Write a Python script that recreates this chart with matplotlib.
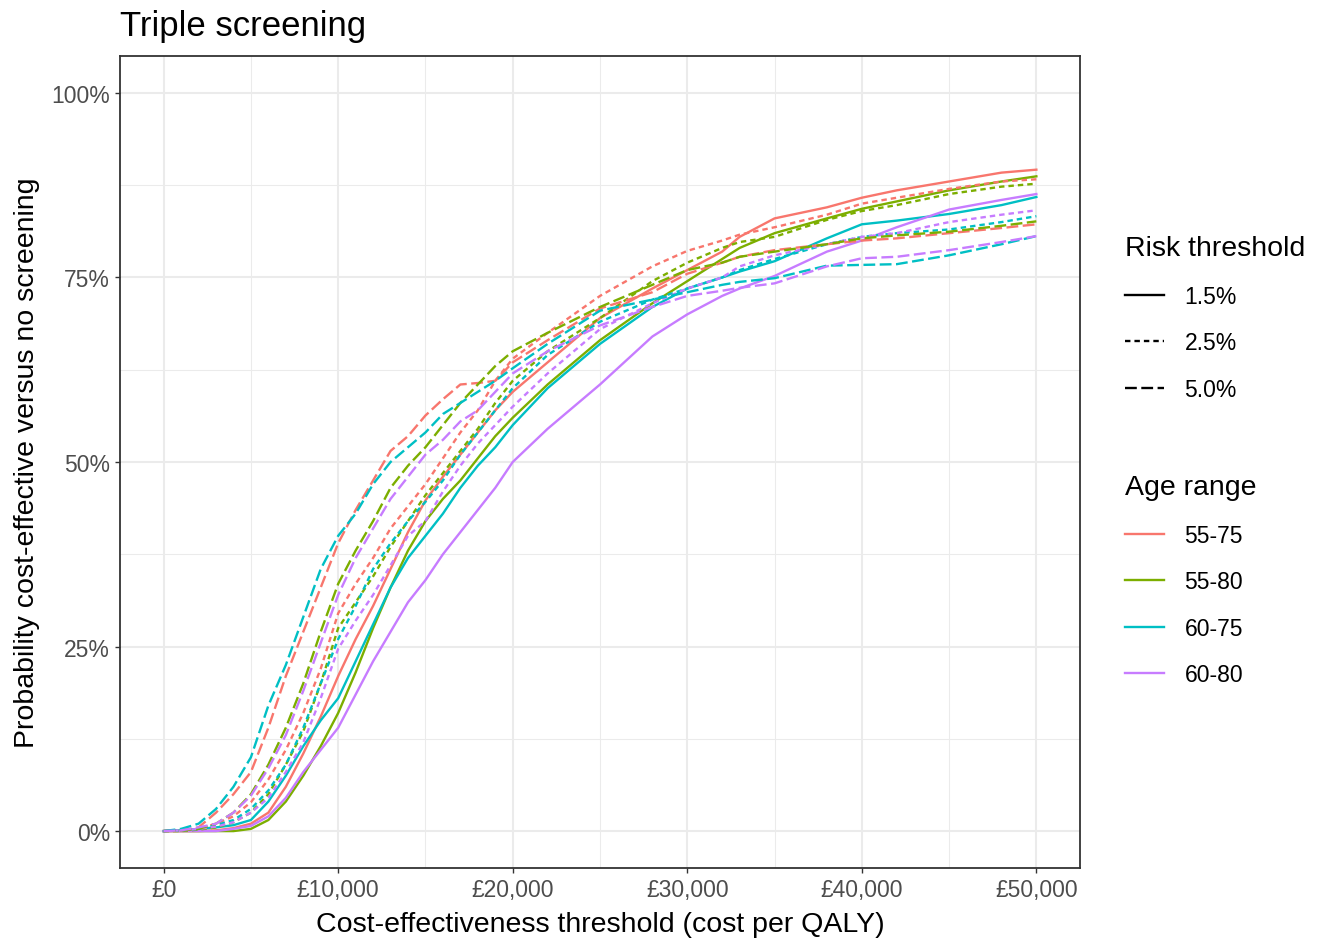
import matplotlib
matplotlib.use("Agg")
import matplotlib.pyplot as plt
from matplotlib.lines import Line2D
from matplotlib.ticker import FuncFormatter, MultipleLocator

plt.rcParams['font.family'] = ['Liberation Sans', 'DejaVu Sans']

# cost-effectiveness thresholds (thousand GBP)
thresholds = [0, 1, 2, 3, 4, 5, 6, 7, 8, 9, 10, 11, 12, 13, 14, 15, 16, 17, 18, 19, 20,
              22, 25, 28, 30, 32, 33, 35, 38, 40, 42, 45, 48, 50]

age_ranges = ["55-75", "55-80", "60-75", "60-80"]
risk_levels = ["1.5%", "2.5%", "5.0%"]

# probability cost-effective (%), risk threshold 1.5%
p_5575_r15 = [0, 0, 0, 0.1, 0.4, 1, 2.5, 6, 10.5, 15.5, 21, 26, 30.5, 35.5, 40.5, 44.8, 48, 51, 54, 57, 59.5,
              63.5, 69.5, 73.5, 76, 78.5, 80.5, 83, 84.5, 85.8, 86.8, 88, 89.2, 89.6]
p_5580_r15 = [0, 0, 0, 0, 0, 0.3, 1.5, 4, 7.5, 11.5, 16, 21.5, 27.5, 33, 38, 42, 45, 47.5, 50.5, 53.5, 56,
              60.5, 66.5, 71.5, 74.5, 77.5, 79, 81, 83, 84.3, 85.3, 86.8, 88, 88.7]
p_6075_r15 = [0, 0.1, 0.3, 0.5, 0.8, 1.5, 4, 7.5, 11.5, 15, 18, 23, 28, 33, 37, 40, 43, 46.5, 49.5, 52, 55,
              60, 66, 71, 73.5, 75, 75.8, 77.2, 80.3, 82.2, 82.7, 83.6, 84.8, 85.9]
p_6080_r15 = [0, 0, 0, 0, 0.3, 0.7, 2, 4.5, 8, 11, 14, 18.5, 23, 27, 31, 34, 37.5, 40.5, 43.5, 46.5, 50,
              54.5, 60.5, 67, 70, 72.5, 73.5, 75.2, 78.5, 80, 81.8, 84.2, 85.5, 86.3]

# risk threshold 2.5%
p_5575_r25 = [0, 0.1, 0.3, 1, 2, 3.9, 7, 11, 16, 22, 29.5, 33.5, 37, 41, 44, 47, 50.5, 54, 57, 61, 64,
              67.5, 72.5, 76.5, 78.6, 80, 80.8, 81.8, 83.5, 85, 85.8, 87, 88, 88.3]
p_5580_r25 = [0, 0, 0.2, 0.5, 1.2, 2.5, 5, 9, 13.5, 20, 27.5, 31, 34.5, 38.5, 42, 45.5, 48.5, 51.5, 54.5, 58, 61,
              65, 69.5, 74.5, 77, 79, 79.8, 80.5, 82.8, 84, 84.8, 86.3, 87.3, 87.7]
p_6075_r25 = [0, 0.1, 0.3, 0.8, 1.5, 3, 5.5, 9, 14, 20, 26, 30.5, 35.5, 39, 42, 44.6, 47.5, 51, 54, 57, 60,
              64.5, 69, 72, 73.5, 75, 76, 77.5, 79.5, 80.5, 81, 81.5, 82.5, 83.3]
p_6080_r25 = [0, 0.1, 0.3, 0.6, 1.2, 2.5, 4.5, 8, 12, 18, 24.7, 28.5, 32, 36, 40, 42, 46, 49.5, 52.5, 55, 57.5,
              62, 68, 71.5, 73.5, 75, 76.5, 78, 79.5, 80.5, 81, 82.5, 83.5, 84.1]

# risk threshold 5.0%
p_5575_r50 = [0, 0.1, 0.5, 2.5, 5, 8, 14, 21, 27, 33, 39, 43.5, 47.5, 51.5, 53.5, 56.3, 58.5, 60.5, 60.7, 61, 63.5,
              66.5, 70.8, 73, 75.5, 77, 77.8, 78.7, 79.5, 80, 80.3, 81, 81.7, 82.2]
p_5580_r50 = [0, 0.1, 0.3, 1, 2.5, 5, 9, 14, 20, 27, 33.5, 38, 42, 46.5, 49.5, 52, 55, 58, 60.5, 63, 65,
              67.5, 71, 74, 76, 77, 77.8, 78.5, 79.5, 80.3, 80.7, 81.2, 82, 82.6]
p_6075_r50 = [0, 0.3, 1, 3, 6, 10, 17, 22.5, 29, 35.5, 40, 43, 47, 50, 52, 54, 56.5, 58, 59.5, 61, 62.7,
              66, 70.5, 72, 73, 74, 74.4, 74.9, 76.6, 76.7, 76.8, 78, 79.5, 80.6]
p_6080_r50 = [0, 0.1, 0.5, 1, 2.5, 4.8, 8.5, 13, 19, 25.5, 32, 37, 41, 45, 48, 51, 53, 55.5, 57, 59.5, 62,
              65, 68.5, 71, 72.5, 73.2, 73.6, 74.2, 76.5, 77.6, 77.8, 78.7, 79.8, 80.6]

curves = {
    ("55-75", "1.5%"): p_5575_r15, ("55-80", "1.5%"): p_5580_r15,
    ("60-75", "1.5%"): p_6075_r15, ("60-80", "1.5%"): p_6080_r15,
    ("55-75", "2.5%"): p_5575_r25, ("55-80", "2.5%"): p_5580_r25,
    ("60-75", "2.5%"): p_6075_r25, ("60-80", "2.5%"): p_6080_r25,
    ("55-75", "5.0%"): p_5575_r50, ("55-80", "5.0%"): p_5580_r50,
    ("60-75", "5.0%"): p_6075_r50, ("60-80", "5.0%"): p_6080_r50,
}

colors = {"55-75": "#F8766D", "55-80": "#7CAE00", "60-75": "#00BFC4", "60-80": "#C77CFF"}
styles = {"1.5%": "-", "2.5%": (0, (2.3, 1.7)), "5.0%": (0, (5.0, 1.9))}

lw = 1.7
fig = plt.figure(figsize=(13.22, 9.45), dpi=100)
ax = fig.add_axes([120 / 1322, 76 / 945, 960 / 1322, 812 / 945])

x_gbp = [t * 1000 for t in thresholds]
for risk in risk_levels:
    for age in age_ranges:
        ax.plot(x_gbp, curves[(age, risk)], color=colors[age], linestyle=styles[risk], lw=lw)

ax.set_xlim(-2500, 52500)
ax.set_ylim(-5, 105)
ax.xaxis.set_major_locator(MultipleLocator(10000))
ax.xaxis.set_minor_locator(MultipleLocator(5000))
ax.yaxis.set_major_locator(MultipleLocator(25))
ax.yaxis.set_minor_locator(MultipleLocator(12.5))
ax.xaxis.set_major_formatter(FuncFormatter(lambda v, p: "£{:,.0f}".format(v)))
ax.yaxis.set_major_formatter(FuncFormatter(lambda v, p: "{:.0f}%".format(v)))

ax.grid(which="major", color="#EBEBEB", lw=1.5)
ax.grid(which="minor", color="#EBEBEB", lw=0.75)
ax.set_axisbelow(True)
ax.tick_params(which="major", length=3.6, width=1.0, color="#333333",
               labelsize=16.5, labelcolor="#4D4D4D", pad=3.5)
ax.tick_params(which="minor", length=0)
for s in ax.spines.values():
    s.set_color("#333333")
    s.set_linewidth(1.3)

ax.set_xlabel("Cost-effectiveness threshold (cost per QALY)", fontsize=20.5, labelpad=7)
ax.set_ylabel("Probability cost-effective versus no screening", fontsize=20.5, labelpad=8)
ax.set_title("Triple screening", loc="left", fontsize=25, pad=15)

risk_handles = [Line2D([], [], color="black", lw=lw, linestyle=styles[r]) for r in risk_levels]
age_handles = [Line2D([], [], color=colors[a], lw=lw) for a in age_ranges]

leg_kw = dict(loc="upper left", frameon=False, fontsize=16.5, title_fontsize=20.5,
              handlelength=1.7, handletextpad=0.9, labelspacing=1.03,
              borderpad=0, borderaxespad=0, alignment="left")
leg1 = fig.legend(risk_handles, risk_levels, title="Risk threshold",
                  bbox_to_anchor=(1125 / 1322, 1 - 236 / 945), **leg_kw)
leg2 = fig.legend(age_handles, age_ranges, title="Age range",
                  bbox_to_anchor=(1125 / 1322, 1 - 475 / 945), **leg_kw)

fig.savefig("out.png", dpi=100)
